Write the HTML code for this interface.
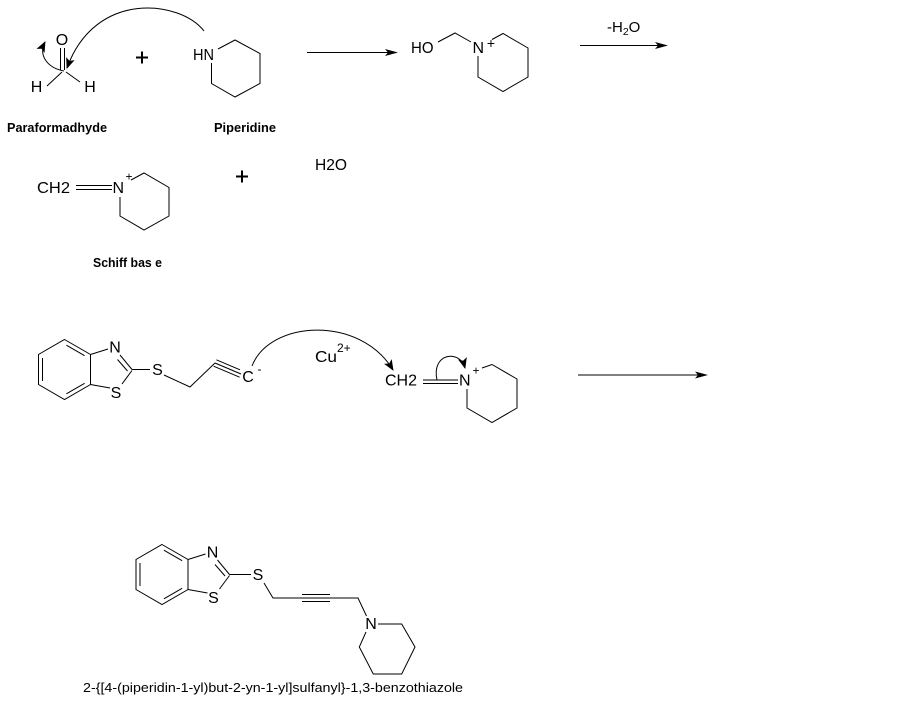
<!DOCTYPE html>
<html><head><meta charset="utf-8"><style>
html,body{margin:0;padding:0;background:#fff;width:909px;height:702px;overflow:hidden;}
svg{display:block;}
text{font-family:"Liberation Sans",Arial,sans-serif;fill:#000;}
.b{font-weight:bold;font-size:12.5px;}
.a{font-size:16px;}
</style></head><body>
<svg width="909" height="702" viewBox="0 0 909 702" xmlns="http://www.w3.org/2000/svg">
<defs>
<marker id="ah" markerWidth="11" markerHeight="9" refX="10" refY="4.5" orient="auto" markerUnits="userSpaceOnUse">
<path d="M0,0 L11,4.5 L0,9 L2.5,4.5 Z" fill="#000"/>
</marker>
</defs>

<g stroke="#000" stroke-width="1" fill="none">
<!-- formaldehyde -->
<line x1="60.5" y1="48" x2="60.5" y2="70"/>
<line x1="64.5" y1="48" x2="64.5" y2="70"/>
<line x1="47" y1="86" x2="62" y2="72"/>
<line x1="66" y1="72" x2="80" y2="82"/>
<path d="M64,71 C48,68 38,56 45,42" marker-end="url(#ah)"/>
<path d="M204,31 C180,0 95,-10 67,68" marker-end="url(#ah)"/>
<!-- plus -->
<line x1="136" y1="57.5" x2="148" y2="57.5" stroke-width="2"/>
<line x1="142" y1="51.5" x2="142" y2="63.5" stroke-width="2"/>
<!-- piperidine -->
<polyline points="218,49 235,40 260,53.5 260,83.5 235,97 211.5,83.5 211.5,63"/>
<!-- arrow 1 -->
<line x1="307" y1="52.5" x2="390" y2="52.5"/>
<!-- hydroxymethyl -->
<polyline points="438,42 455,33 471,42"/>
<polyline points="492,39.5 503,33.5 528,48 528,77 503,91.5 478,77 478,56"/>
<!-- arrow 2 -->
<line x1="580" y1="45.5" x2="660" y2="45.5"/>

<!-- schiff base -->
<line x1="76" y1="185.5" x2="112" y2="185.5"/>
<line x1="76" y1="189.5" x2="112" y2="189.5"/>
<polyline points="131,180 144,173 169,187.5 169,216 144,230 120,216 120,197"/>
<line x1="236" y1="176.5" x2="248" y2="176.5" stroke-width="2"/>
<line x1="242" y1="170.5" x2="242" y2="182.5" stroke-width="2"/>

<!-- row 3 benzothiazole -->
<g>
<polygon points="64.5,339.5 90.5,354.5 90.5,384.5 64.5,399.5 38.5,384.5 38.5,354.5"/>
<line x1="42.5" y1="358" x2="42.5" y2="381"/>
<line x1="66.4" y1="345.2" x2="84.6" y2="355.7"/>
<line x1="84.6" y1="383.3" x2="66.4" y2="393.8"/>
<line x1="90.5" y1="354.5" x2="108" y2="349"/>
<line x1="120" y1="355" x2="132" y2="369.5"/>
<line x1="117.5" y1="359.5" x2="127.5" y2="371"/>
<line x1="132" y1="370.5" x2="122" y2="384"/>
<line x1="110" y1="388" x2="90.5" y2="384.5"/>
</g>
<line x1="132" y1="369.5" x2="150" y2="369.5"/>
<polyline points="164,375 190,387 215,363"/>
<line x1="215" y1="363" x2="241" y2="374"/>
<line x1="213.6" y1="366.2" x2="239.6" y2="377.2"/>
<line x1="216.4" y1="359.8" x2="240" y2="369.8"/>
<path d="M252,366 C270,320 360,315 393,370" marker-end="url(#ah)"/>
<line x1="423" y1="380" x2="458" y2="380"/>
<line x1="423" y1="383.5" x2="458" y2="383.5"/>
<polyline points="482,368 492,364.5 517,379 517,408 492,422.5 467,408 467,389"/>
<path d="M437,380 C431,353 460,349 465,368" marker-end="url(#ah)"/>
<!-- arrow 3 -->
<line x1="578" y1="375" x2="700" y2="375"/>

<!-- product -->
<g transform="translate(97.5,205)">
<polygon points="64.5,339.5 90.5,354.5 90.5,384.5 64.5,399.5 38.5,384.5 38.5,354.5"/>
<line x1="42.5" y1="358" x2="42.5" y2="381"/>
<line x1="66.4" y1="345.2" x2="84.6" y2="355.7"/>
<line x1="84.6" y1="383.3" x2="66.4" y2="393.8"/>
<line x1="90.5" y1="354.5" x2="108" y2="349"/>
<line x1="120" y1="355" x2="132" y2="369.5"/>
<line x1="117.5" y1="359.5" x2="127.5" y2="371"/>
<line x1="132" y1="370.5" x2="122" y2="384"/>
<line x1="110" y1="388" x2="90.5" y2="384.5"/>
</g>
<line x1="229.5" y1="574.5" x2="251" y2="574.5"/>
<polyline points="264,583 273,598 358,598 366.5,616"/>
<line x1="302" y1="594.5" x2="330" y2="594.5"/>
<line x1="302" y1="601.5" x2="330" y2="601.5"/>
<polyline points="378,624 401.7,624 415,647 401.7,674 373.3,674 359.3,647 366,632"/>
</g>

<!-- straight arrowheads -->
<g fill="#000">
<polygon points="398,52.5 385,49 388,52.5 385,56"/>
<polygon points="668,45.5 655,42 658,45.5 655,49"/>
<polygon points="708,375 695,371.5 698,375 695,378.5"/>
</g>

<!-- text -->
<text class="a" x="62" y="45" text-anchor="middle">O</text>
<text class="a" x="36.5" y="92" text-anchor="middle">H</text>
<text class="a" x="90" y="92" text-anchor="middle">H</text>
<text class="a" x="193" y="60" textLength="21" lengthAdjust="spacingAndGlyphs">HN</text>
<text class="b" x="7" y="132" textLength="100" lengthAdjust="spacingAndGlyphs">Paraformadhyde</text>
<text class="b" x="214" y="132" textLength="62" lengthAdjust="spacingAndGlyphs">Piperidine</text>

<text class="a" x="411" y="53" textLength="22.5" lengthAdjust="spacingAndGlyphs">HO</text>
<text class="a" x="472.5" y="53">N</text>
<text x="491" y="48" font-size="14" text-anchor="middle">+</text>
<text x="607" y="32" font-size="15">-H<tspan font-size="10.5" dy="3">2</tspan><tspan dy="-3">O</tspan></text>

<text class="a" x="37" y="193" textLength="33" lengthAdjust="spacingAndGlyphs">CH2</text>
<text class="a" x="112.5" y="193">N</text>
<text x="129" y="180.5" font-size="12" text-anchor="middle">+</text>
<text class="a" x="315" y="170" textLength="32" lengthAdjust="spacingAndGlyphs">H2O</text>
<text class="b" x="93" y="267" textLength="69" lengthAdjust="spacingAndGlyphs">Schiff bas e</text>

<text class="a" x="115" y="352.5" text-anchor="middle">N</text>
<text class="a" x="116" y="398" text-anchor="middle">S</text>
<text class="a" x="157.5" y="375" text-anchor="middle">S</text>
<text class="a" x="248" y="382" text-anchor="middle">C</text>
<text x="259.5" y="373" font-size="12" text-anchor="middle">-</text>
<text class="a" x="315" y="362" textLength="22" lengthAdjust="spacingAndGlyphs">Cu</text>
<text x="337" y="352" font-size="12">2+</text>
<text class="a" x="385" y="385.5" textLength="32" lengthAdjust="spacingAndGlyphs">CH2</text>
<text class="a" x="459" y="385.5">N</text>
<text x="476" y="374.5" font-size="12" text-anchor="middle">+</text>

<text class="a" x="212.5" y="557.5" text-anchor="middle">N</text>
<text class="a" x="213.5" y="603" text-anchor="middle">S</text>
<text class="a" x="258" y="580" text-anchor="middle">S</text>
<text class="a" x="371" y="629" text-anchor="middle">N</text>
<text x="83" y="692" font-size="13" textLength="380" lengthAdjust="spacingAndGlyphs">2-{[4-(piperidin-1-yl)but-2-yn-1-yl]sulfanyl}-1,3-benzothiazole</text>
</svg>
</body></html>
